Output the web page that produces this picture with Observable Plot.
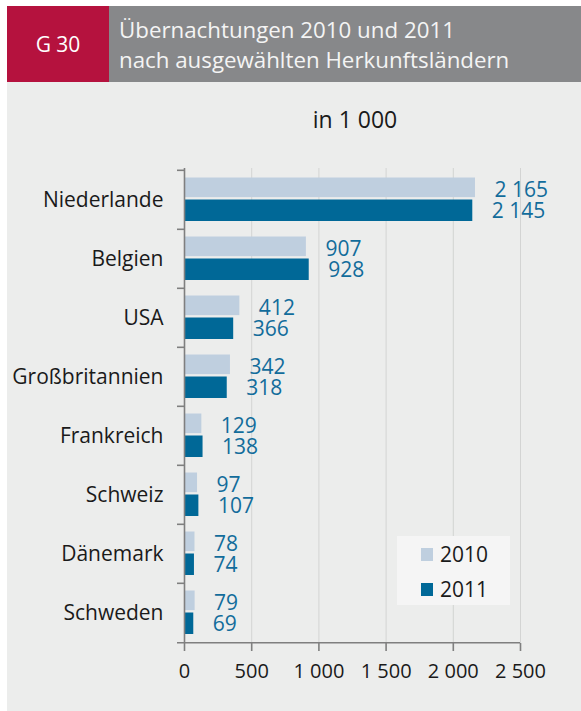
<!DOCTYPE html>
<html>
<head>
<meta charset="utf-8">
<script src="https://cdn.jsdelivr.net/npm/d3@7"></script>
<script src="https://cdn.jsdelivr.net/npm/@observablehq/plot@0.6"></script>
<style>
  html, body { margin: 0; padding: 0; background: #ffffff; }
  #root { position: relative; width: 581px; height: 711px; overflow: hidden; font-family: "Open Sans", "Noto Sans", sans-serif; background: #ffffff; }
  #badge { position: absolute; left: 7px; top: 6px; width: 102px; height: 76px; background: #b5123e; color: #ffffff; font-size: 21px; display: flex; align-items: center; justify-content: center; }
  #head { position: absolute; left: 109px; top: 6px; width: 472px; height: 76px; background: #87888a; color: #f4f4f4; font-size: 22.3px; line-height: 30px; box-sizing: border-box; padding: 9px 0 0 10px; white-space: nowrap; }
  #chart { position: absolute; left: 7px; top: 82px; }
  #unit { position: absolute; left: 255px; width: 200px; top: 103px; text-align: center; font-size: 23px; color: #1a1a1a; }
  #legend { position: absolute; left: 397px; top: 536px; width: 113px; height: 69px; background: #f5f5f5; }
  .li { position: absolute; left: 24px; display: flex; align-items: center; font-size: 21px; color: #1a1a1a; }
  .sw { width: 12px; height: 13px; margin-right: 7px; }
</style>
</head>
<body>
<div id="root">
  <div id="badge">G 30</div>
  <div id="head">Übernachtungen 2010 und 2011<br>nach ausgewählten Herkunftsländern</div>
  <div id="chart"></div>
  <div id="unit">in 1 000</div>
  <div id="legend"></div>
</div>
<script>
const countries = ["Niederlande", "Belgien", "USA", "Großbritannien", "Frankreich", "Schweiz", "Dänemark", "Schweden"];
const values2010 = [2165, 907, 412, 342, 129, 97, 78, 79];
const values2011 = [2145, 928, 366, 318, 138, 107, 74, 69];
const years = ["2010", "2011"];
const xTicks = [0, 500, 1000, 1500, 2000, 2500];

const colors = { "2010": "#bfcfdf", "2011": "#006897" };
const labelColor = "#126c9b";
const axisColor = "#7f7f7f";
const gridColor = "#d3d4d3";

const fmt = d3.formatLocale({ decimal: ",", thousands: " ", grouping: [3], currency: ["", ""] }).format(",");

const d2010 = countries.map((c, i) => ({ country: c, value: values2010[i] }));
const d2011 = countries.map((c, i) => ({ country: c, value: values2011[i] }));

const W = 574, H = 629;
const mTop = 86, mBottom = 68, mLeft = 177, mRight = 61;
const bw = (H - mTop - mBottom) / countries.length;

const plot = Plot.plot({
  width: W,
  height: H,
  marginTop: mTop,
  marginBottom: mBottom,
  marginLeft: mLeft,
  marginRight: mRight,
  style: { background: "#ecedec", fontFamily: "'Open Sans', 'Noto Sans', sans-serif", color: "#1a1a1a", overflow: "visible" },
  x: { domain: [0, 2500], label: null },
  y: { domain: countries, padding: 0, label: null },
  marks: [
    Plot.ruleX(xTicks.slice(1), { stroke: gridColor, strokeWidth: 1 }),
    Plot.barX(d2010, { x: "value", y: "country", fill: colors["2010"], insetTop: 7.5, insetBottom: bw - 27.5 }),
    Plot.barX(d2011, { x: "value", y: "country", fill: colors["2011"], insetTop: 29.5, insetBottom: 8 }),
    Plot.ruleX([0], { stroke: axisColor, strokeWidth: 1.6 }),
    Plot.ruleY(countries, { y: d => d, x1: 0, x2: 0, insetLeft: -7, dy: -bw / 2, stroke: axisColor, strokeWidth: 1.6 }),
    Plot.ruleY([countries[countries.length - 1]], { y: d => d, x1: 0, x2: 2500, insetLeft: -7, dy: bw / 2, stroke: axisColor, strokeWidth: 1.6 }),
    Plot.text(d2010, { x: "value", y: "country", text: d => fmt(d.value), dx: 19, dy: -9.5, textAnchor: "start", fill: labelColor, fontSize: 21 }),
    Plot.text(d2011, { x: "value", y: "country", text: d => fmt(d.value), dx: 19, dy: 11.5, textAnchor: "start", fill: labelColor, fontSize: 21 }),
    Plot.axisX({ ticks: xTicks, tickFormat: fmt, tickSize: 8, tickPadding: 12, fontSize: 20, stroke: axisColor, strokeWidth: 1.6, fill: "#1a1a1a" }),
    Plot.axisY({ tickSize: 0, tickPadding: 21, fontSize: 21, fill: "#1a1a1a" })
  ]
});
document.getElementById("chart").appendChild(plot);

const legend = document.getElementById("legend");
years.forEach((y, i) => {
  const item = document.createElement("div");
  item.className = "li";
  item.style.top = (i === 0 ? 4 : 39) + "px";
  const sw = document.createElement("div");
  sw.className = "sw";
  sw.style.background = colors[y];
  const t = document.createElement("span");
  t.textContent = y;
  item.appendChild(sw);
  item.appendChild(t);
  legend.appendChild(item);
});
</script>
</body>
</html>
